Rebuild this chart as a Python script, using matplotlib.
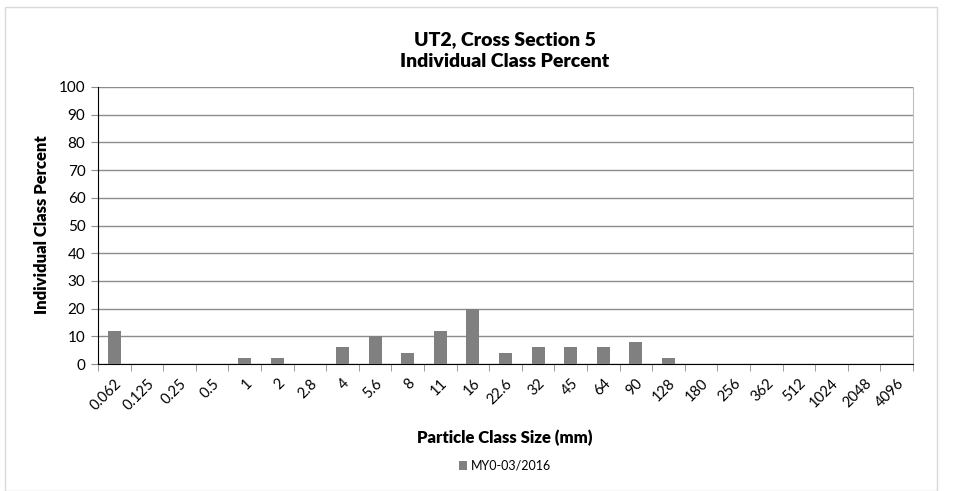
import matplotlib
matplotlib.use("Agg")
import matplotlib.pyplot as plt
from matplotlib.patches import Rectangle
import numpy as np

categories = ["0.062", "0.125", "0.25", "0.5", "1", "2", "2.8", "4", "5.6", "8", "11", "16",
              "22.6", "32", "45", "64", "90", "128", "180", "256", "362", "512", "1024", "2048", "4096"]
values = [12, 0, 0, 0, 2, 2, 0, 6, 10, 4, 12, 20, 4, 6, 6, 6, 8, 2, 0, 0, 0, 0, 0, 0, 0]
series_name = "MY0-03/2016"
title = "UT2, Cross Section 5\nIndividual Class Percent"
xlabel = "Particle Class Size (mm)"
ylabel = "Individual Class Percent"

plt.rcParams['font.family'] = ['Lato', 'DejaVu Sans']

fig = plt.figure(figsize=(9.57, 4.91), dpi=100)
ax = fig.add_axes([98/957, 1-364/491, (913-98)/957, (364-87)/491])

x = np.arange(len(categories))
ax.bar(x, values, width=0.4, color="#808080", label=series_name, zorder=3)

ax.set_xlim(-0.5, len(categories) - 0.5)
ax.set_ylim(0, 100)
ax.set_yticks(np.arange(0, 101, 10))
ax.yaxis.grid(True, color="#8c8c8c", linewidth=1.0, zorder=0)
ax.set_axisbelow(True)

ax.set_xticks(x)
ax.set_xticklabels(categories, rotation=45, ha="right", va="top", rotation_mode="anchor", fontsize=10.5)
ax.tick_params(axis="x", length=0, pad=9)
ax.set_xticks(np.arange(-0.5, len(categories), 1.0), minor=True)
ax.tick_params(axis="x", which="minor", length=5, color="#8c8c8c", direction="out")
ax.tick_params(axis="y", length=5, color="#8c8c8c", labelsize=11, pad=4)

ax.spines["top"].set_visible(False)
ax.spines["right"].set_color("#bfbfbf")
ax.spines["left"].set_color("#000000")
ax.spines["bottom"].set_color("#000000")

fig.text(505/957, 1-51/491, title, ha="center", va="center", fontsize=14, fontweight="heavy",
         linespacing=1.35)
fig.text(505/957, 1-438/491, xlabel, ha="center", va="center", fontsize=12, fontweight="heavy")
fig.text(42/957, 1-225/491, ylabel, ha="center", va="center", rotation=90, fontsize=12, fontweight="heavy")

leg = fig.legend(loc="center", bbox_to_anchor=(505/957, 1-466/491), frameon=False, fontsize=9,
                 handlelength=0.7, handleheight=0.7, handletextpad=0.3)

fig.patches.append(Rectangle((5/957, 0), 932/957, 1-7/491, transform=fig.transFigure,
                             fill=False, edgecolor="#d9d9d9", linewidth=1))

fig.savefig("out.png", dpi=100)
